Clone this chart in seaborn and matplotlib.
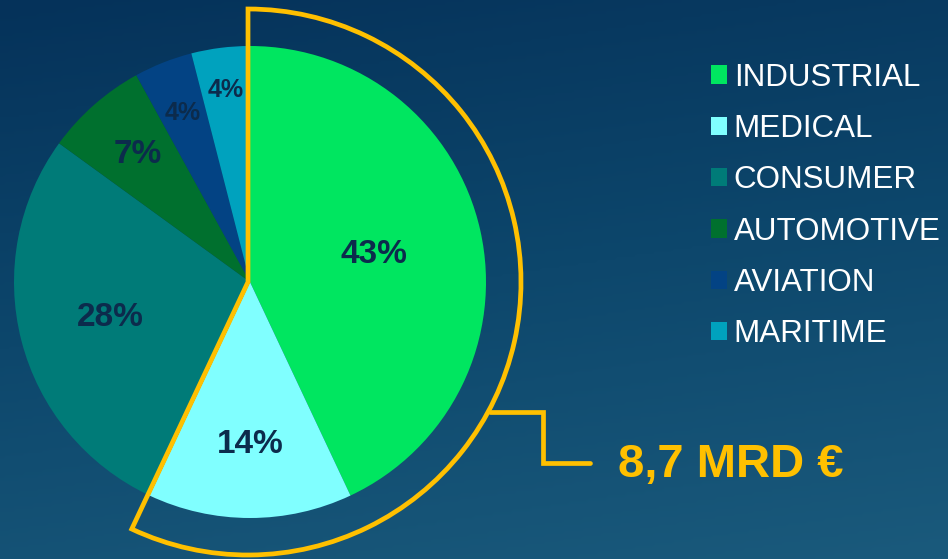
import numpy as np
import seaborn as sns
import matplotlib.pyplot as plt
from matplotlib.patches import Wedge
from matplotlib.colors import LinearSegmentedColormap

categories = ['INDUSTRIAL', 'MEDICAL', 'CONSUMER', 'AUTOMOTIVE', 'AVIATION', 'MARITIME']
shares = [43, 14, 28, 7, 4, 4]
total_label = '8,7 MRD €'
highlight_count = 2  # industrial + medical are outlined

colors = ['#00E660', '#80FFFF', '#007B78', '#00702E', '#034384', '#00A2BE']
label_dist = [0.54, 0.69, 0.61, 0.72, 0.77, 0.82]
label_size = [24, 24, 24, 24, 18, 18]
yellow = '#FFC000'
navy = '#0C2B4C'

sns.set_theme(style='white')
plt.rcParams['font.family'] = ['Liberation Sans', 'DejaVu Sans']

fig = plt.figure(figsize=(9.48, 5.59), dpi=100)
ax = fig.add_axes([0, 0, 1, 1])

# background gradient
bg = LinearSegmentedColormap.from_list('bg', ['#05325A', '#0D476C', '#1A5A7C'])
yy, xx = np.mgrid[0:1:200j, 0:1:200j]
grad = 0.8 * yy + 0.2 * xx
ax.imshow(grad, cmap=bg, extent=(0, 948, 0, 559), origin='upper', aspect='auto', zorder=0)

cx, cy, r = 250, 277, 236
wedges, texts = ax.pie(shares, colors=sns.color_palette(colors), startangle=90, counterclock=False,
                       center=(cx, cy), radius=r, frame=True,
                       wedgeprops=dict(linewidth=0, zorder=2))

# percent labels
acc = 0
for i, v in enumerate(shares):
    mid = np.deg2rad(90 - (acc + v / 2) / sum(shares) * 360)
    acc += v
    ax.text(cx + label_dist[i] * r * np.cos(mid), cy + label_dist[i] * r * np.sin(mid), f'{v}%',
            ha='center', va='center', fontsize=label_size[i], fontweight='bold', color=navy, zorder=3)

# outline around highlighted segments
span = sum(shares[:highlight_count]) / sum(shares) * 360
ax.add_patch(Wedge((cx - 2, cy), 273, 90 - span, 90, fill=False, edgecolor=yellow, lw=3.4, zorder=4))

# connector to total label
ang = np.deg2rad(-28.5)
px, py = cx + 273 * np.cos(ang), cy + 273 * np.sin(ang)
ax.plot([px, 543, 543, 590], [py, py, 96, 96], color=yellow, lw=3.4, solid_joinstyle='miter', zorder=4)
ax.text(618, 94, total_label, ha='left', va='center', fontsize=34, fontweight='bold', color=yellow)

leg = ax.legend(wedges, categories, loc='upper left', bbox_to_anchor=(698 / 948, 1 - 50 / 559),
                frameon=False, fontsize=22.6, labelcolor='white', handlelength=0.52, handleheight=0.52,
                handletextpad=0.22, labelspacing=0.68, borderaxespad=0)

ax.set_xlim(0, 948)
ax.set_ylim(0, 559)
ax.set_aspect('auto')
ax.axis('off')
sns.despine(left=True, bottom=True)

plt.savefig('out.png', dpi=100)
plt.close()
